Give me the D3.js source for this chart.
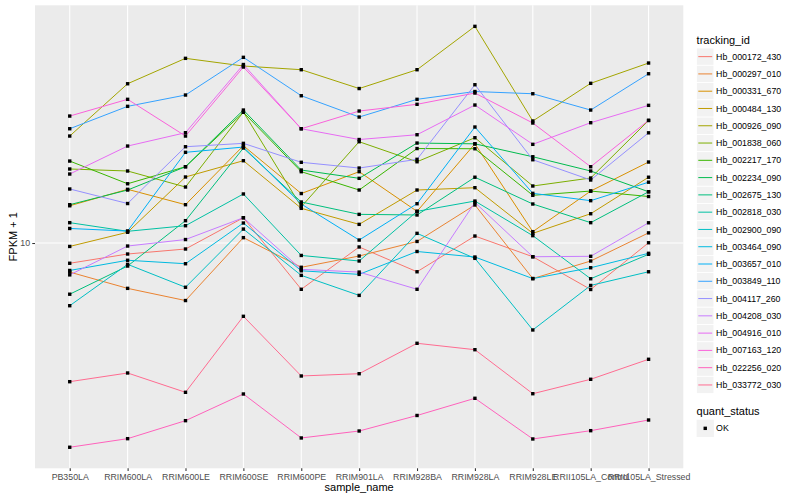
<!DOCTYPE html>
<html>
<head>
<meta charset="utf-8">
<script src="https://cdn.jsdelivr.net/npm/d3@7"></script>
<style>
body{margin:0;background:#fff;}
text{font-family:"Liberation Sans",Arial,sans-serif;}
</style>
</head>
<body>
<script>
// samples on the x axis
var samples = ["PB350LA","RRIM600LA","RRIM600LE","RRIM600SE","RRIM600PE","RRIM901LA",
               "RRIM928BA","RRIM928LA","RRIM928LE","RRII105LA_Control","RRII105LA_Stressed"];

var trackingIds = ["Hb_000172_430","Hb_000297_010","Hb_000331_670","Hb_000484_130","Hb_000926_090",
                   "Hb_001838_060","Hb_002217_170","Hb_002234_090","Hb_002675_130","Hb_002818_030",
                   "Hb_002900_090","Hb_003464_090","Hb_003657_010","Hb_003849_110","Hb_004117_260",
                   "Hb_004208_030","Hb_004916_010","Hb_007163_120","Hb_022256_020","Hb_033772_030"];

var hue20 = ["#F8766D","#EA8331","#D89000","#C09B00","#A3A500","#7CAE00","#39B600","#00BB4E","#00BF7D","#00C1A3",
             "#00BFC4","#00BAE0","#00B0F6","#35A2FF","#9590FF","#C77CFF","#E76BF3","#FA62DB","#FF62BC","#FF6C91"];

// FPKM + 1, one array per gene, in sample order
var hb000172 = [8.56, 9.19, 9.55, 12.14, 7.01, 9.70, 8.02, 10.55, 9.00, 7.00, 10.02];
var hb000297 = [8.00, 7.06, 6.43, 10.42, 8.30, 9.05, 10.12, 13.39, 7.61, 8.71, 10.81];
var hb000331 = [13.31, 15.10, 13.42, 21.10, 14.62, 17.29, 12.75, 21.41, 10.91, 14.90, 18.62];
var hb000484 = [9.74, 10.86, 16.60, 18.81, 13.05, 11.54, 15.02, 15.29, 10.77, 12.52, 16.57];
var hb000926 = [22.73, 33.96, 41.27, 38.91, 37.82, 32.73, 37.82, 52.76, 25.51, 34.07, 39.81];
var hb001838 = [17.65, 17.38, 15.37, 27.33, 13.21, 21.76, 18.66, 22.44, 15.49, 16.47, 25.61];
var hb002217 = [18.76, 15.76, 17.96, 27.27, 17.29, 15.02, 20.65, 20.62, 14.42, 14.90, 14.29];
var hb002234 = [13.42, 15.02, 17.96, 27.75, 17.51, 16.43, 21.54, 21.41, 19.39, 17.38, 14.82];
var hb002675 = [6.75, 8.38, 11.87, 20.73, 13.70, 12.46, 12.40, 16.57, 13.49, 11.69, 14.82];
var hb002818 = [11.69, 10.94, 11.42, 14.57, 9.09, 8.71, 12.75, 13.80, 10.58, 7.60, 9.17];
var hb002900 = [6.18, 8.49, 7.12, 11.13, 7.80, 6.69, 10.77, 8.89, 5.13, 7.22, 8.02];
var hb003464 = [8.10, 8.76, 8.53, 11.66, 8.08, 7.86, 9.37, 8.98, 7.61, 8.27, 9.24];
var hb003657 = [11.18, 10.96, 20.06, 20.89, 13.49, 10.23, 13.52, 24.36, 14.64, 13.84, 15.95];
var hb003849 = [24.04, 28.55, 31.14, 41.59, 30.97, 26.30, 30.13, 31.99, 31.45, 27.75, 36.67];
var hb004117 = [15.14, 13.54, 20.94, 21.49, 18.58, 17.78, 19.01, 33.70, 18.95, 16.22, 23.30];
var hb004208 = [7.83, 9.77, 10.27, 12.14, 8.17, 8.00, 7.01, 13.65, 9.00, 9.03, 11.68];
var hb004916 = [16.98, 21.05, 23.32, 39.36, 24.04, 22.13, 22.96, 28.84, 21.33, 25.18, 28.77];
var hb007163 = [26.50, 30.13, 22.73, 38.61, 24.04, 27.54, 29.00, 31.62, 25.12, 17.96, 25.64];
var hb022256 = [2.085, 2.227, 2.557, 3.138, 2.239, 2.362, 2.661, 3.036, 2.222, 2.368, 2.570];
var hb033772 = [3.449, 3.687, 3.179, 5.697, 3.603, 3.667, 4.631, 4.409, 3.145, 3.513, 4.096];

var geneValues = [hb000172, hb000297, hb000331, hb000484, hb000926, hb001838, hb002217, hb002234,
                  hb002675, hb002818, hb002900, hb003464, hb003657, hb003849, hb004117, hb004208,
                  hb004916, hb007163, hb022256, hb033772];

var series = trackingIds.map(function(id, i){
  return {id:id, color:hue20[i], values:geneValues[i].map(function(v, j){ return {sample:samples[j], fpkm:v}; })};
});

var width = 800, height = 500;
var panel = {left:35, top:5.3, right:683.3, bottom:468.3};

var svg = d3.select("body").append("svg").attr("width",width).attr("height",height);
svg.append("rect").attr("width",width).attr("height",height).attr("fill","#fff");

var x = d3.scalePoint().domain(samples).range([panel.left, panel.right]).padding(0.6);

// log extent plus 5% like ggplot
var logExt = d3.extent(d3.merge(geneValues)).map(Math.log10);
var pad = (logExt[1]-logExt[0])*0.05;
var y = d3.scaleLog()
    .domain([Math.pow(10, logExt[0]-pad), Math.pow(10, logExt[1]+pad)])
    .range([panel.bottom, panel.top]);

svg.append("rect")
  .attr("x",panel.left).attr("y",panel.top)
  .attr("width",panel.right-panel.left).attr("height",panel.bottom-panel.top)
  .attr("fill","#EBEBEB");

var grid = svg.append("g").attr("stroke","#fff").attr("stroke-width",1.07);
grid.selectAll("line.v").data(samples).enter().append("line")
  .attr("x1",function(d){ return x(d); }).attr("x2",function(d){ return x(d); })
  .attr("y1",panel.top).attr("y2",panel.bottom);
grid.selectAll("line.h").data([10]).enter().append("line")
  .attr("x1",panel.left).attr("x2",panel.right)
  .attr("y1",function(d){ return y(d); }).attr("y2",function(d){ return y(d); });

var line = d3.line()
    .x(function(d){ return x(d.sample); })
    .y(function(d){ return y(d.fpkm); });

svg.append("g").selectAll("path").data(series).enter().append("path")
  .attr("d",function(d){ return line(d.values); })
  .attr("fill","none")
  .attr("stroke",function(d){ return d.color; })
  .attr("stroke-width",1);

var pts = svg.append("g");
series.forEach(function(s){
  pts.selectAll(null).data(s.values).enter().append("rect")
    .attr("x",function(d){ return x(d.sample)-1.7; })
    .attr("y",function(d){ return y(d.fpkm)-1.7; })
    .attr("width",3.4).attr("height",3.4)
    .attr("fill","#000");
});

// axes
var xAxis = d3.axisBottom(x).tickSize(2.74).tickPadding(3);
var gx = svg.append("g").attr("transform","translate(0,"+panel.bottom+")").call(xAxis);
var yAxis = d3.axisLeft(y).tickValues([10]).tickFormat(d3.format("d")).tickSize(2.74).tickPadding(2.2);
var gy = svg.append("g").attr("transform","translate("+panel.left+",0)").call(yAxis);
[gx, gy].forEach(function(g){
  g.select(".domain").remove();
  g.selectAll(".tick line").attr("stroke","#333333").attr("stroke-width",1.07);
  g.selectAll(".tick text").attr("fill","#4D4D4D").style("font-size","8.8px")
    .style("font-family","'Liberation Sans',Arial,sans-serif");
});

svg.append("text").attr("x",(panel.left+panel.right)/2).attr("y",491)
  .attr("text-anchor","middle").style("font-size","11px").text("sample_name");
svg.append("text").attr("transform","translate(16.5,"+((panel.top+panel.bottom)/2)+") rotate(-90)")
  .attr("text-anchor","middle").style("font-size","11px").text("FPKM + 1");

// legend
var lg = svg.append("g").attr("transform","translate(696.6,0)");
lg.append("text").attr("x",0).attr("y",44).style("font-size","11px").text("tracking_id");
var keys = lg.selectAll("g.key").data(series).enter().append("g")
  .attr("transform",function(d,i){ return "translate(0,"+(48+17.28*i)+")"; });
keys.append("rect").attr("width",17.28).attr("height",17.28).attr("fill","#F2F2F2")
  .attr("stroke","#fff").attr("stroke-width",0.8);
keys.append("line").attr("x1",1.7).attr("x2",15.6).attr("y1",8.64).attr("y2",8.64)
  .attr("stroke",function(d){ return d.color; }).attr("stroke-width",1);
keys.append("text").attr("x",19.5).attr("y",8.64).attr("dy","0.35em")
  .style("font-size","8.8px").text(function(d){ return d.id; });

lg.append("text").attr("x",0).attr("y",415).style("font-size","11px").text("quant_status");
lg.append("rect").attr("y",419.7).attr("width",17.28).attr("height",17.28).attr("fill","#F2F2F2");
lg.append("rect").attr("x",8.64-1.7).attr("y",419.7+8.64-1.7).attr("width",3.4).attr("height",3.4).attr("fill","#000");
lg.append("text").attr("x",19.5).attr("y",419.7+8.64).attr("dy","0.35em")
  .style("font-size","8.8px").text("OK");
</script>
</body>
</html>
